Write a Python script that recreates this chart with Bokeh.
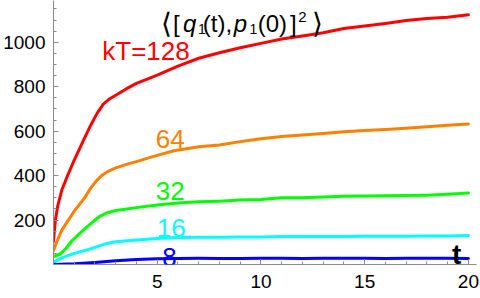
from bokeh.plotting import figure
from bokeh.models import Label, FixedTicker, Range1d
from bokeh.embed import file_html
from bokeh.resources import INLINE

# ---- data ----
t_red = [0, 0.05, 0.1, 0.2, 0.4, 0.7, 1.0, 1.5, 1.8, 2.1, 2.4, 2.7, 3.0, 3.5, 4, 5, 6, 7, 8, 9, 10, 11, 12, 13, 14, 15, 16, 17, 18, 19, 20]
v_red = [105, 160, 205, 262, 335, 405, 470, 570, 628, 680, 722, 745, 762, 790, 815, 852, 893, 928, 953, 975, 995, 1015, 1028, 1043, 1062, 1073, 1085, 1098, 1107, 1113, 1124]

t_orange = [0, 0.15, 0.4, 1.0, 1.5, 1.8, 2.1, 2.3, 2.6, 3.0, 3.6, 4.0, 4.7, 5.8, 7, 8, 9, 10, 11, 12, 13, 14, 15, 16, 17, 18, 19, 20]
v_orange = [63, 100, 155, 240, 300, 345, 380, 398, 418, 435, 453, 463, 483, 512, 530, 538, 553, 566, 576, 583, 590, 597, 603, 608, 613, 620, 627, 632]

t_green = [0, 0.3, 0.6, 0.9, 1.5, 2.0, 2.25, 2.6, 3, 4, 5, 6, 7, 8, 9, 10, 11, 12, 13, 14, 15, 16, 17, 18, 19, 20]
v_green = [36, 46, 72, 108, 160, 200, 218, 233, 243, 256, 268, 277, 282, 285, 290, 293, 300, 300, 304, 307, 308, 309, 310, 312, 316, 322]

t_cyan = [0, 0.4, 1, 1.7, 2.5, 3, 4, 5, 6, 7, 8, 9, 10, 11, 12, 13, 14, 15, 16, 17, 18, 19, 20]
v_cyan = [10, 30, 50, 68, 93, 102, 110, 117, 121, 123, 123, 124, 124, 126, 126, 126, 126, 127, 127, 127, 128, 128, 130]

t_blue = [0, 1, 2, 3, 4, 5, 6, 7, 8, 9, 10, 11, 12, 13, 14, 15, 16, 17, 18, 19, 20]
v_blue = [0, 3, 9, 17, 23, 26, 27, 28, 27, 27, 28, 28, 27, 28, 28, 28, 27, 28, 28, 28, 27]

series_names = ["kT=128", "64", "32", "16", "8"]
series_colors = ["#ff0000", "#ff8000", "#00ff00", "#00ffff", "#0000ff"]

x_ticks = [5, 10, 15, 20]
x_minor = list(range(1, 21))
y_ticks = [200, 400, 600, 800, 1000]
y_minor = list(range(50, 1151, 50))

FONT = "Liberation Sans"

p = figure(width=480, height=298, x_range=Range1d(0, 20.39), y_range=Range1d(0, 1188),
           output_backend="svg", toolbar_location=None,
           min_border_left=51, min_border_right=4, min_border_top=0, min_border_bottom=34)
p.outline_line_color = None
p.grid.visible = False
p.background_fill_color = "white"
p.border_fill_color = "white"

for ax, tk, mn in ((p.xaxis[0], x_ticks, x_minor), (p.yaxis[0], y_ticks, y_minor)):
    ax.ticker = FixedTicker(ticks=tk, minor_ticks=mn)
    ax.axis_line_color = "#8c8c8c"
    ax.major_tick_line_color = "#8c8c8c"
    ax.minor_tick_line_color = "#8c8c8c"
    ax.major_tick_in = 5
    ax.major_tick_out = 0
    ax.minor_tick_in = 3
    ax.minor_tick_out = 0
    ax.major_label_text_font = FONT
    ax.major_label_text_font_size = "19px"
    ax.major_label_text_color = "black"
p.xaxis.major_label_standoff = 10
p.yaxis.major_label_standoff = 8

data = [(t_red, v_red), (t_orange, v_orange), (t_green, v_green), (t_cyan, v_cyan), (t_blue, v_blue)]
for (tt, vv), c in zip(data, series_colors):
    p.line(tt, vv, line_color=c, line_width=3, line_join="round", line_cap="round")

# curve labels (anchor = vertical centre of the glyphs)
label_pos = [(4.46, 962), (5.63, 565), (5.63, 330), (5.67, 165), (5.59, 36)]
for name, c, (lx, ly) in zip(series_names, series_colors, label_pos):
    p.add_layout(Label(x=lx, y=ly, text=name, text_color=c, text_font=FONT,
                       text_font_size="26px", text_align="center", text_baseline="alphabetic"))

# axis label t
p.add_layout(Label(x=19.43, y=45, text="t", text_color="black", text_font=FONT,
                   text_font_size="28px", text_font_style="bold",
                   text_align="center", text_baseline="alphabetic"))

# title pieces: ⟨[q₁(t),p₁(0)]²⟩
title_parts = [
    ("⟨", 5.20, 1084, "28px", "normal"),
    ("[", 5.76, 1084, "24px", "normal"),
    ("q", 6.24, 1084, "24px", "italic"),
    ("1", 6.96, 1062, "14px", "normal"),
    ("(t),", 7.20, 1084, "24px", "normal"),
    ("p", 8.69, 1084, "24px", "italic"),
    ("1", 9.45, 1062, "14px", "normal"),
    ("(0)", 9.84, 1084, "24px", "normal"),
    ("]", 11.40, 1084, "24px", "normal"),
    ("2", 11.80, 1112, "15px", "normal"),
    ("⟩", 12.48, 1084, "28px", "normal"),
]
for txt, lx, ly, fs, st in title_parts:
    p.add_layout(Label(x=lx, y=ly, text=txt, text_color="black", text_font=FONT,
                       text_font_size=fs, text_font_style=st, text_align="left",
                       text_baseline="alphabetic"))

open("out.html", "w").write(file_html(p, INLINE))
